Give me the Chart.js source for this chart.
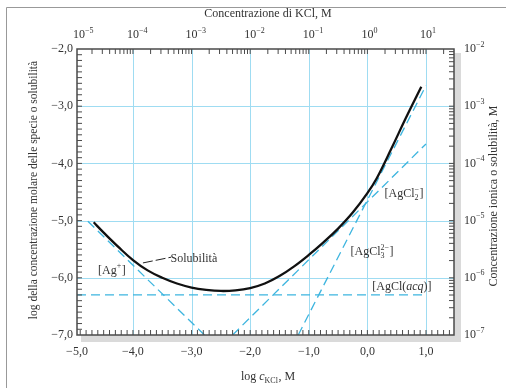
<!DOCTYPE html>
<html>
<head>
<meta charset="utf-8">
<script src="https://cdn.jsdelivr.net/npm/chart.js@4.4.1/dist/chart.umd.min.js"></script>
<style>
  html, body { margin: 0; padding: 0; background: #fff; }
  #wrap { position: relative; width: 506px; height: 392px; }
</style>
</head>
<body>
<div id="wrap"><canvas id="chart" width="506" height="392"></canvas></div>
<script>
// Values, all in log units
const solX = [-4.67, -4.5, -4.25, -4.0, -3.75, -3.5, -3.25, -3.0, -2.75, -2.5, -2.25, -2.0, -1.75, -1.5, -1.25, -1.0, -0.75, -0.5, -0.25, 0.0, 0.16, 0.41, 0.65, 0.92];
const solY = [-5.03, -5.21, -5.46, -5.69, -5.87, -6.0, -6.1, -6.17, -6.21, -6.23, -6.22, -6.18, -6.1, -5.97, -5.8, -5.6, -5.38, -5.14, -4.86, -4.52, -4.26, -3.74, -3.22, -2.66];
const agX = [-4.77, -2.78];
const agY = [-5.01, -7.0];
const agcl2X = [-2.3, 1.0];
const agcl2Y = [-7.0, -3.66];
const agcl3X = [-1.18, 1.0];
const agcl3Y = [-7.0, -2.64];
const aqX = [-4.955, 1.0];
const aqY = [-6.3, -6.3];

// axis ticks
const bottomTicks = [-5, -4, -3, -2, -1, 0, 1];
const leftTicks = [-2, -3, -4, -5, -6, -7];
const topExps = [-5, -4, -3, -2, -1, 0, 1];
const rightExps = [-2, -3, -4, -5, -6, -7];

// annotation leader for "Solubilità"
const leaderX = [-3.83, -3.35];
const leaderY = [-5.74, -5.64];

const SERIF = '"Liberation Serif", "DejaVu Serif", serif';
const TEXT = '#333';
const GRID = '#9fdcf2';
const CYAN = '#3db5df';
const FRAME = '#4a4a4a';

const zip = (xs, ys) => xs.map((x, i) => ({ x: x, y: ys[i] }));

function fmtComma(v) {
    return (v < 0 ? '\u2212' : '') + Math.abs(v).toFixed(1).replace('.', ',');
}

// draws text made of segments: {t}, {t, it}, {sub, sup}
function segWidth(ctx, s, size) {
    if (s.t !== undefined) {
        ctx.font = (s.it ? 'italic ' : '') + size + 'px ' + SERIF;
        return ctx.measureText(s.t).width;
    }
    ctx.font = Math.round(size * 0.68) + 'px ' + SERIF;
    return Math.max(s.sub ? ctx.measureText(s.sub).width : 0, s.sup ? ctx.measureText(s.sup).width : 0) + 0.5;
}
function richWidth(ctx, segs, size) {
    return segs.reduce((w, s) => w + segWidth(ctx, s, size), 0);
}
function richText(ctx, segs, x, y, size, align) {
    const w = richWidth(ctx, segs, size);
    let cx = align === 'center' ? x - w / 2 : (align === 'right' ? x - w : x);
    ctx.textBaseline = 'middle';
    ctx.textAlign = 'left';
    segs.forEach(s => {
        const sw = segWidth(ctx, s, size);
        if (s.t !== undefined) {
            ctx.font = (s.it ? 'italic ' : '') + size + 'px ' + SERIF;
            ctx.fillText(s.t, cx, y);
        } else {
            ctx.font = Math.round(size * 0.68) + 'px ' + SERIF;
            if (s.sub) ctx.fillText(s.sub, cx, y + size * 0.32);
            if (s.sup) ctx.fillText(s.sup, cx, y - size * 0.38);
        }
        cx += sw;
    });
}

const figure = {
    id: 'figure',
    beforeDraw(chart) {
        const ctx = chart.ctx;
        ctx.save();
        ctx.fillStyle = '#fff';
        ctx.fillRect(0, 0, chart.width, chart.height);
        // outer border of the page
        ctx.strokeStyle = '#999';
        ctx.lineWidth = 1;
        ctx.beginPath();
        ctx.moveTo(506, 7.5);
        ctx.lineTo(6.5, 7.5);
        ctx.lineTo(6.5, 388);
        ctx.stroke();
        ctx.restore();
    },
    beforeDatasetsDraw(chart) {
        const { ctx, chartArea: a, scales: { x, y } } = chart;
        ctx.save();
        // drop shadow right and below
        ctx.fillStyle = '#dadada';
        ctx.fillRect(a.right, a.top + 4, 7, a.bottom - a.top + 3);
        ctx.fillRect(a.left + 4, a.bottom, a.right - a.left + 3, 7);
        ctx.fillStyle = '#fff';
        ctx.fillRect(a.left, a.top, a.right - a.left, a.bottom - a.top);
        // grid
        ctx.strokeStyle = GRID;
        ctx.lineWidth = 1;
        ctx.beginPath();
        bottomTicks.forEach(v => {
            const px = Math.round(x.getPixelForValue(v)) + 0.5;
            if (px <= a.left + 1 || px >= a.right - 1) return;
            ctx.moveTo(px, a.top);
            ctx.lineTo(px, a.bottom);
        });
        leftTicks.forEach(v => {
            const py = Math.round(y.getPixelForValue(v)) + 0.5;
            if (py <= a.top + 1 || py >= a.bottom - 1) return;
            ctx.moveTo(a.left, py);
            ctx.lineTo(a.right, py);
        });
        ctx.stroke();
        ctx.restore();
    },
    afterDatasetsDraw(chart) {
        const { ctx, chartArea: a, scales: { x, y } } = chart;
        ctx.save();
        // frame
        ctx.strokeStyle = FRAME;
        ctx.lineWidth = 1.5;
        ctx.strokeRect(a.left, a.top, a.right - a.left, a.bottom - a.top);

        // inward tick marks
        ctx.lineWidth = 1;
        ctx.beginPath();
        for (let i = -49; i <= 14; i++) {
            const px = x.getPixelForValue(i / 10);
            if (px < a.left + 1 || px > a.right - 1) continue;
            ctx.moveTo(px, a.bottom);
            ctx.lineTo(px, a.bottom - 5);
        }
        for (let i = -69; i <= -21; i++) {
            const py = y.getPixelForValue(i / 10);
            ctx.moveTo(a.left, py);
            ctx.lineTo(a.left + 5, py);
        }
        for (let d = -5; d <= 1; d++) {
            for (let k = 1; k <= 9; k++) {
                const px = x.getPixelForValue(d + Math.log10(k));
                if (px < a.left + 1 || px > a.right - 1) continue;
                ctx.moveTo(px, a.top);
                ctx.lineTo(px, a.top + 5);
            }
        }
        for (let d = -7; d <= -3; d++) {
            for (let k = 1; k <= 9; k++) {
                const py = y.getPixelForValue(d + Math.log10(k));
                if (py < a.top + 1 || py > a.bottom - 1) continue;
                ctx.moveTo(a.right, py);
                ctx.lineTo(a.right - 5, py);
            }
        }
        ctx.stroke();

        ctx.fillStyle = TEXT;
        // bottom and left labels
        bottomTicks.forEach(v => {
            const px = Math.max(x.getPixelForValue(v), a.left);
            richText(ctx, [{ t: fmtComma(v) }], px, 352, 12, 'center');
        });
        leftTicks.forEach(v => {
            richText(ctx, [{ t: fmtComma(v) }], 73, y.getPixelForValue(v), 12, 'right');
        });
        // top and right log labels
        topExps.forEach(e => {
            const px = Math.max(x.getPixelForValue(e), a.left + 2);
            ctx.font = '12px ' + SERIF;
            const w10 = ctx.measureText('10').width;
            richText(ctx, [{ t: '10' }, { sup: e < 0 ? '\u2212' + Math.abs(e) : String(e) }], px - w10 / 2, 35, 12, 'left');
        });
        rightExps.forEach(e => {
            richText(ctx, [{ t: '10' }, { sup: '\u2212' + Math.abs(e) }], 464, y.getPixelForValue(e), 12, 'left');
        });

        // axis titles
        richText(ctx, [{ t: 'Concentrazione di KCl, M' }], 268, 14, 12, 'center');
        richText(ctx, [{ t: 'log ' }, { t: 'c', it: true }, { sub: 'KCl' }, { t: ', M' }], 268, 377, 12, 'center');
        ctx.save();
        ctx.translate(34, 190);
        ctx.rotate(-Math.PI / 2);
        richText(ctx, [{ t: 'log della concentrazione molare delle specie o solubilità' }], 0, 0, 11.5, 'center');
        ctx.restore();
        ctx.save();
        ctx.translate(494, 196);
        ctx.rotate(-Math.PI / 2);
        richText(ctx, [{ t: 'Concentrazione ionica o solubilità, M' }], 0, 0, 12, 'center');
        ctx.restore();

        // leader line and species labels
        ctx.strokeStyle = '#222';
        ctx.lineWidth = 1;
        ctx.setLineDash([10, 3]);
        ctx.beginPath();
        ctx.moveTo(x.getPixelForValue(leaderX[0]), y.getPixelForValue(leaderY[0]));
        ctx.lineTo(x.getPixelForValue(leaderX[1]), y.getPixelForValue(leaderY[1]));
        ctx.stroke();
        ctx.setLineDash([]);

        const lab = (segs, vx, vy) => richText(ctx, segs, x.getPixelForValue(vx), y.getPixelForValue(vy), 12, 'center');
        lab([{ t: 'Solubilità' }], -2.96, -5.66);
        lab([{ t: '[Ag' }, { sup: '+' }, { t: ']' }], -4.36, -5.87);
        lab([{ t: '[AgCl' }, { sub: '2', sup: '\u2212' }, { t: ']' }], 0.625, -4.54);
        lab([{ t: '[AgCl' }, { sub: '3', sup: '2\u2212' }, { t: ']' }], 0.08, -5.55);
        lab([{ t: '[AgCl(' }, { t: 'acq', it: true }, { t: ')]' }], 0.59, -6.16);
        ctx.restore();
    }
};

const dashed = (data) => ({
    data: data,
    borderColor: CYAN,
    borderWidth: 1.3,
    borderDash: [9, 5],
    pointRadius: 0,
    fill: false,
    tension: 0
});

new Chart(document.getElementById('chart').getContext('2d'), {
    type: 'scatter',
    data: {
        datasets: [
            {
                label: 'Solubilità',
                data: zip(solX, solY),
                showLine: true,
                borderColor: '#111',
                borderWidth: 2.3,
                pointRadius: 0,
                tension: 0.4
            },
            Object.assign({ label: '[Ag+]', showLine: true }, dashed(zip(agX, agY))),
            Object.assign({ label: '[AgCl2-]', showLine: true }, dashed(zip(agcl2X, agcl2Y))),
            Object.assign({ label: '[AgCl3 2-]', showLine: true }, dashed(zip(agcl3X, agcl3Y))),
            Object.assign({ label: '[AgCl(acq)]', showLine: true }, dashed(zip(aqX, aqY)))
        ]
    },
    options: {
        responsive: false,
        devicePixelRatio: 1,
        animation: false,
        layout: { padding: { left: 77, top: 49, right: 52, bottom: 57 } },
        scales: {
            x: { type: 'linear', display: false, min: -4.955, max: 1.478 },
            y: { type: 'linear', display: false, min: -7, max: -2 }
        },
        plugins: {
            legend: { display: false },
            tooltip: { enabled: false }
        }
    },
    plugins: [figure]
});
</script>
</body>
</html>
